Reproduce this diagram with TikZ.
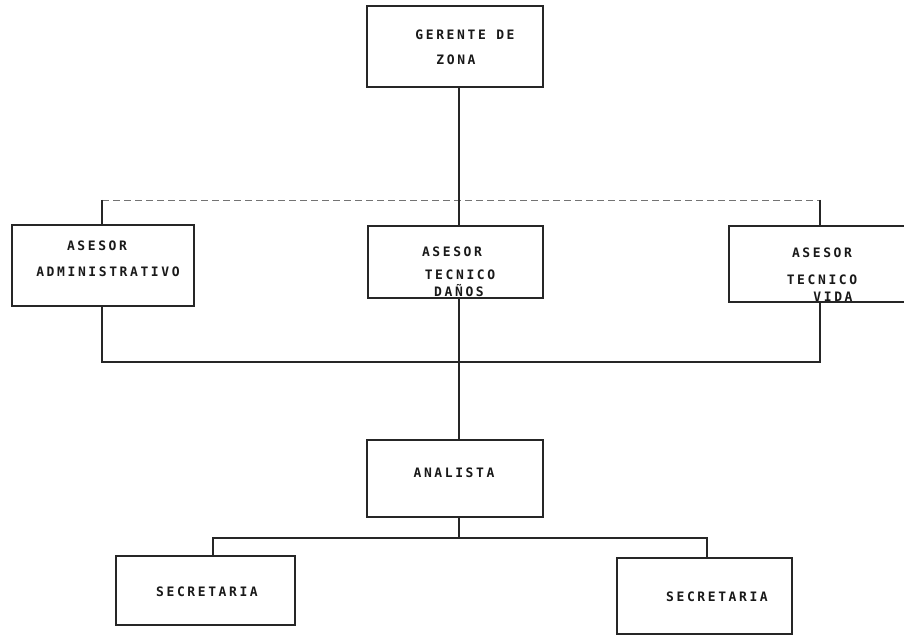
\documentclass[tikz,border=0pt]{standalone}
\usepackage{fontspec}
\newfontfamily\twfont[LetterSpace=20]{DejaVu Sans Mono}
\begin{document}
\begin{tikzpicture}[x=1pt,y=-1pt,
  box/.style={draw=black!85, line width=1.1pt, inner sep=0pt, outer sep=0pt},
  lbl/.style={font=\twfont\bfseries\fontsize{13}{15}\selectfont, text=black!90, inner sep=0pt, text height=9.5pt, text depth=0pt},
  conn/.style={draw=black!85, line width=1.3pt},
  faint/.style={draw=black!55, line width=0.9pt, dash pattern=on 7pt off 4pt}]
\useasboundingbox (0,0) rectangle (904,636);
\fill[white] (0,0) rectangle (904,636);
% boxes
\node[box, minimum width=176pt, minimum height=81pt] (g) at (455,46.5) {};
\node[box, minimum width=182pt, minimum height=81pt] (a) at (103,265.5) {};
\node[box, minimum width=175pt, minimum height=72pt] (d) at (455.5,262) {};
\node[box, minimum width=177pt, minimum height=76pt] (v) at (817.5,264) {};
\node[box, minimum width=176pt, minimum height=77pt] (n) at (455,478.5) {};
\node[box, minimum width=179pt, minimum height=69pt] (s1) at (205.5,590.5) {};
\node[box, minimum width=175pt, minimum height=76pt] (s2) at (704.5,596) {};
% texts
\node[lbl] (g1) at (465,35) {GERENTE DE};
\node[lbl] (g2) at (456,60) {ZONA};
\node[lbl] (a1) at (97,246) {ASESOR};
\node[lbl] (a2) at (108,272) {ADMINISTRATIVO};
\node[lbl] (d1) at (452,252) {ASESOR};
\node[lbl] (d2) at (460,275) {TECNICO};
\node[lbl] (d3) at (459,292) {DAÑOS};
\node[lbl] (v1) at (822,253) {ASESOR};
\node[lbl] (v2) at (822,280) {TECNICO};
\node[lbl] (v3) at (833,297) {VIDA};
\node[lbl] (n1) at (454,473) {ANALISTA};
\node[lbl] (s1t) at (207,592) {SECRETARIA};
\node[lbl] (s2t) at (717,597) {SECRETARIA};
% bus coordinates
\coordinate (ax) at (102,200);
\coordinate (mx) at (459,200);
\coordinate (vx) at (820,200);
\coordinate (ax2) at (102,362);
\coordinate (mx2) at (459,362);
\coordinate (vx2) at (820,362);
\coordinate (s1x) at (213,538);
\coordinate (mx3) at (459,538);
\coordinate (s2x) at (707,538);
% connectors
\draw[faint] (ax) -- (vx);
\draw[conn] (g.south -| mx) -- (d.north -| mx);
\draw[conn] (ax) -- (a.north -| ax);
\draw[conn] (vx) -- (v.north -| vx);
\draw[conn] (a.south -| ax) -- (ax2) -- (vx2) -- (v.south -| vx);
\draw[conn] (d.south -| mx) -- (n.north -| mx);
\draw[conn] (n.south -| mx) -- (mx3);
\draw[conn] (s1.north -| s1x) -- (s1x) -- (s2x) -- (s2.north -| s2x);
\end{tikzpicture}
\end{document}
